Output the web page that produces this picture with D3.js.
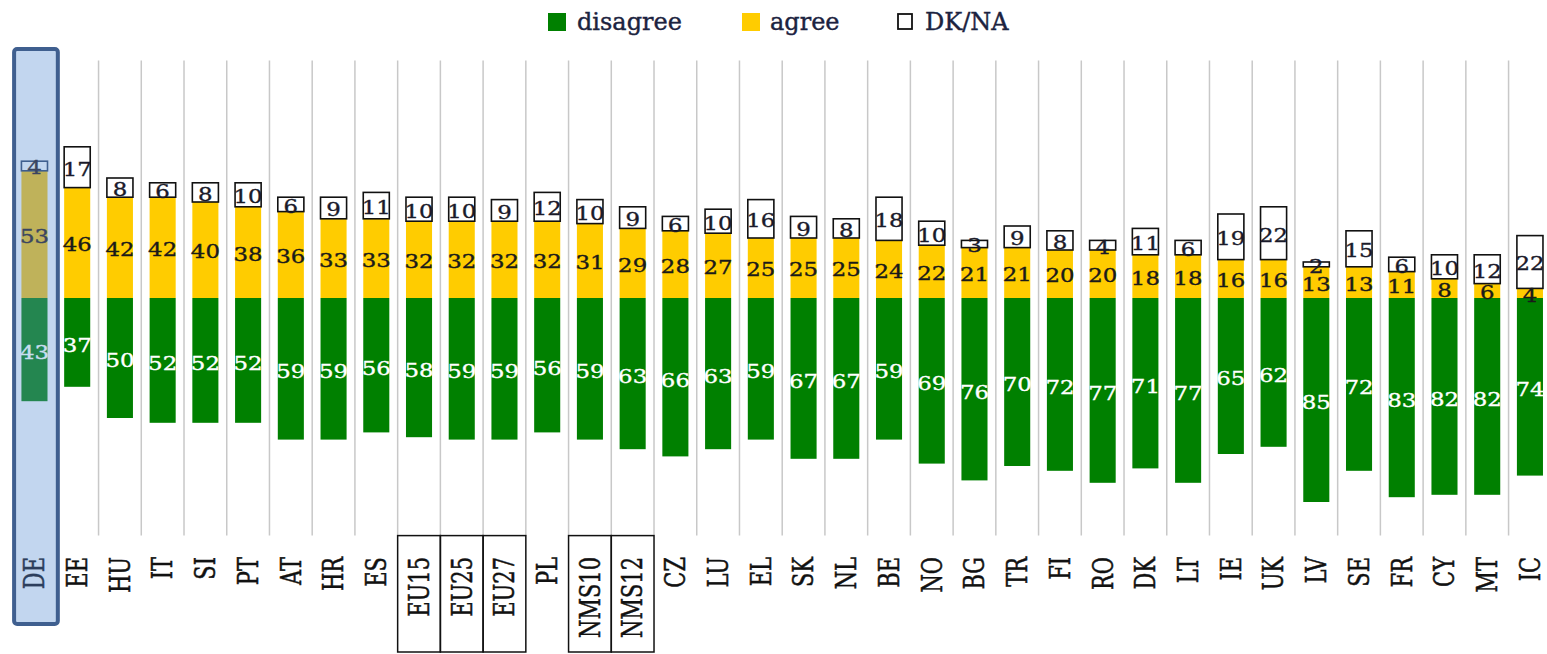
<!DOCTYPE html>
<html>
<head>
<meta charset="utf-8">
<script src="https://cdn.jsdelivr.net/npm/d3@7/dist/d3.min.js"></script>
<style>
  html, body { margin: 0; padding: 0; background: #ffffff; }
  svg { display: block; }
  text { font-family: "DejaVu Serif", "Liberation Serif", serif; }
</style>
</head>
<body>
<svg id="chart" width="1547" height="654"></svg>
<script>
const categories = ["DE","EE","HU","IT","SI","PT","AT","HR","ES","EU15","EU25","EU27","PL","NMS10","NMS12","CZ","LU","EL","SK","NL","BE","NO","BG","TR","FI","RO","DK","LT","IE","UK","LV","SE","FR","CY","MT","IC"];
const disagree = [43,37,50,52,52,52,59,59,56,58,59,59,56,59,63,66,63,59,67,67,59,69,76,70,72,77,71,77,65,62,85,72,83,82,82,74];
const agree    = [53,46,42,42,40,38,36,33,33,32,32,32,32,31,29,28,27,25,25,25,24,22,21,21,20,20,18,18,16,16,13,13,11,8,6,4];
const dkna     = [4,17,8,6,8,10,6,9,11,10,10,9,12,10,9,6,10,16,9,8,18,10,3,9,8,4,11,6,19,22,2,15,6,10,12,22];
const legendLabels = ["disagree","agree","DK/NA"];
const highlighted = ["DE"];
const boxedGroups = [["EU15","EU25","EU27"],["NMS10","NMS12"]];

const svg = d3.select("#chart");
const x = d3.scalePoint().domain(categories).range([13.1, 1551.3]).padding(0.5);
const step = x.step();
const bw = step * 0.61;
const y = d3.scaleLinear().domain([-100, 100]).range([538, 58]);

const colors = { disagree: "#008000", agree: "#ffcc00", dk: "#ffffff" };
const hl = { bg: "#c2d6ef", border: "#3f5f8f", agree: "#bfb25a", disagree: "#248650", dk: "#c2d6ef",
             agreeText: "#3a4560", disText: "#c8ddf0", dkText: "#3a4560", label: "#2c3e5c" };

const data = categories.map((c, i) => ({ c, dis: disagree[i], agr: agree[i], dk: dkna[i], hl: highlighted.includes(c) }));

// gridlines at column boundaries
const gridTop = y(99), gridBottom = y(-99);
svg.append("g").selectAll("line")
  .data(categories.slice(0, -1))
  .join("line")
  .attr("x1", d => x(d) + step / 2).attr("x2", d => x(d) + step / 2)
  .attr("y1", gridTop).attr("y2", gridBottom)
  .attr("stroke", "#c8c8c8").attr("stroke-width", 1.5);

// highlight box
highlighted.forEach(c => {
  svg.append("rect")
    .attr("x", x(c) - step / 2 + 1).attr("y", 49)
    .attr("width", step + 1).attr("height", 575)
    .attr("rx", 3)
    .attr("fill", hl.bg).attr("stroke", hl.border).attr("stroke-width", 4);
});

// group boxes at bottom
boxedGroups.forEach(g => {
  g.forEach(c => {
    svg.append("rect")
      .attr("x", x(c) - step / 2).attr("y", gridBottom)
      .attr("width", step).attr("height", 652 - gridBottom)
      .attr("fill", "none").attr("stroke", "#111").attr("stroke-width", 1.5);
  });
});

const bars = svg.append("g");
// disagree (downward)
bars.selectAll("rect.dis").data(data).join("rect").attr("class", "dis")
  .attr("x", d => x(d.c) - bw / 2).attr("width", bw)
  .attr("y", y(0)).attr("height", d => y(-d.dis) - y(0))
  .attr("fill", d => d.hl ? hl.disagree : colors.disagree);
// agree (upward)
bars.selectAll("rect.agr").data(data).join("rect").attr("class", "agr")
  .attr("x", d => x(d.c) - bw / 2).attr("width", bw)
  .attr("y", d => y(d.agr)).attr("height", d => y(0) - y(d.agr))
  .attr("fill", d => d.hl ? hl.agree : colors.agree);
// DK/NA boxes
bars.selectAll("rect.dk").data(data).join("rect").attr("class", "dk")
  .attr("x", d => x(d.c) - bw / 2).attr("width", bw)
  .attr("y", d => y(d.agr + d.dk)).attr("height", d => y(d.agr) - y(d.agr + d.dk))
  .attr("fill", d => d.hl ? hl.dk : colors.dk)
  .attr("stroke", d => d.hl ? hl.border : "#111").attr("stroke-width", 1.6);

// value labels
const sx = 1.27;
function valLabel(sel, cls, yFn, txt, col) {
  sel.selectAll("text." + cls).data(data).join("text").attr("class", cls)
    .attr("transform", d => `translate(${x(d.c)},${yFn(d)}) scale(${sx},1)`)
    .attr("text-anchor", "middle").attr("dy", "0.36em")
    .attr("font-size", 18)
    .attr("fill", col)
    .attr("stroke", col).attr("stroke-width", 0.35)
    .text(txt);
}
const lab = svg.append("g");
valLabel(lab, "ldis", d => (y(0) + y(-d.dis)) / 2 + 3, d => d.dis, d => d.hl ? hl.disText : "#ffffff");
valLabel(lab, "lagr", d => (y(0) + y(d.agr)) / 2 + 2, d => d.agr, d => d.hl ? hl.agreeText : "#1a1a1a");
valLabel(lab, "ldk", d => (y(d.agr) + y(d.agr + d.dk)) / 2 + 2, d => d.dk, d => d.hl ? hl.dkText : "#1a1a2a");

// category labels (rotated)
svg.append("g").selectAll("text.cat").data(categories).join("text").attr("class", "cat")
  .attr("transform", d => `translate(${x(d)},557) scale(1.3,1) rotate(-90)`)
  .attr("text-anchor", "end").attr("dy", "0.36em")
  .attr("font-size", 21)
  .attr("fill", d => highlighted.includes(d) ? hl.label : "#111")
  .attr("stroke", d => highlighted.includes(d) ? hl.label : "#111").attr("stroke-width", 0.4)
  .text(d => d);

// legend
const legend = svg.append("g");
const legendPos = [
  { sx: 548, tx: 577, fill: colors.disagree, stroke: "none" },
  { sx: 742, tx: 770, fill: colors.agree, stroke: "none" },
  { sx: 897, tx: 925, fill: "#ffffff", stroke: "#111" }
];
legendLabels.forEach((l, i) => {
  const p = legendPos[i];
  if (p.stroke === "none") {
    legend.append("rect").attr("x", p.sx).attr("y", 13).attr("width", 18).attr("height", 18).attr("fill", p.fill);
  } else {
    legend.append("rect").attr("x", p.sx + 1).attr("y", 14).attr("width", 14).attr("height", 15)
      .attr("fill", p.fill).attr("stroke", p.stroke).attr("stroke-width", 1.8);
  }
  legend.append("text").attr("x", p.tx).attr("y", 30).attr("font-size", 24)
    .attr("fill", "#1c2340").attr("stroke", "#1c2340").attr("stroke-width", 0.4).text(l);
});
</script>
</body>
</html>
